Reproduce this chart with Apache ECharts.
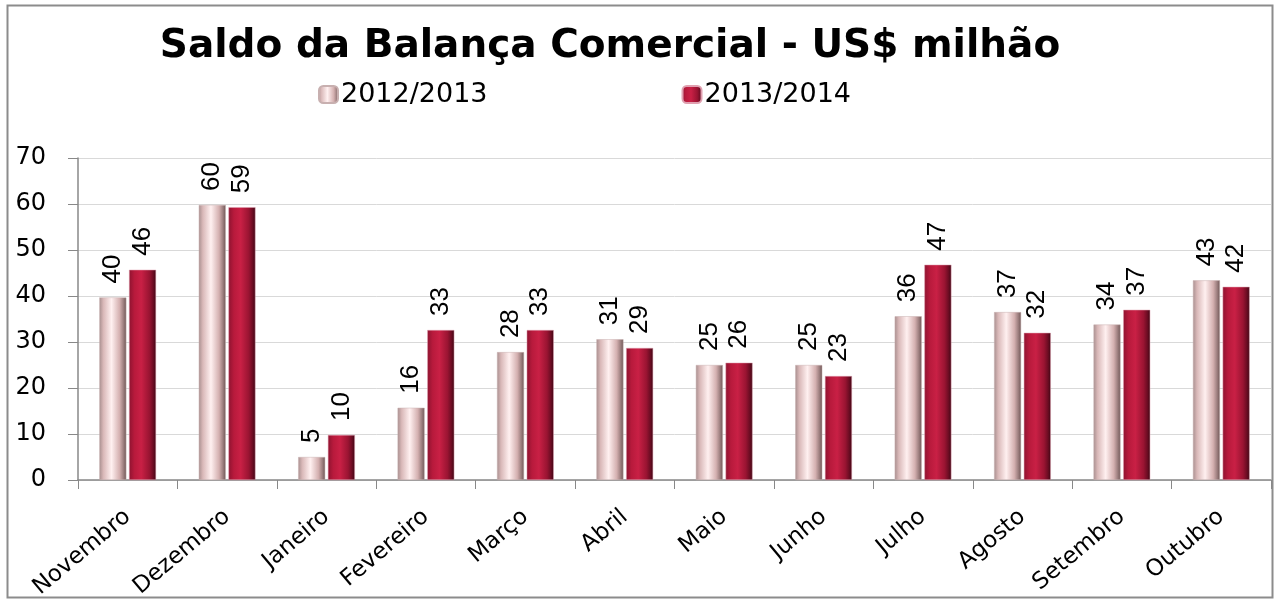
<!DOCTYPE html>
<html>
<head>
<meta charset="utf-8">
<script src="https://cdn.jsdelivr.net/npm/echarts@6/dist/echarts.min.js"></script>
<style>
  html, body { margin: 0; padding: 0; background: #fff; }
  #chart { width: 1277px; height: 603px; }
</style>
</head>
<body>
<div id="chart"></div>
<script>
// categorias e valores (US$ milhão)
const meses = ['Novembro', 'Dezembro', 'Janeiro', 'Fevereiro', 'Março', 'Abril',
  'Maio', 'Junho', 'Julho', 'Agosto', 'Setembro', 'Outubro']
const safra1213 = [39.7, 59.8, 5.0, 15.7, 27.8, 30.6, 25.0, 25.0, 35.6, 36.5, 33.8, 43.4]
const safra1314 = [45.7, 59.3, 9.8, 32.6, 32.6, 28.7, 25.5, 22.6, 46.8, 32.0, 37.0, 42.0]
const yTicks = [0, 10, 20, 30, 40, 50, 60, 70]

const chart = echarts.init(document.getElementById('chart'))

// gradientes para imitar o efeito 3D das barras
const claro = new echarts.graphic.LinearGradient(0, 0, 1, 0, [
  { offset: 0, color: '#a88f8f' },
  { offset: 0.15, color: '#d9b8b8' },
  { offset: 0.45, color: '#fff0f0' },
  { offset: 0.75, color: '#d4b0b0' },
  { offset: 0.9, color: '#9a7c7c' },
  { offset: 1, color: '#6e5656' },
])
const escuro = new echarts.graphic.LinearGradient(0, 0, 1, 0, [
  { offset: 0, color: '#8e1330' },
  { offset: 0.2, color: '#b81a3c' },
  { offset: 0.45, color: '#c92045' },
  { offset: 0.75, color: '#9a1432' },
  { offset: 0.9, color: '#6a0c22' },
  { offset: 1, color: '#3e0614' },
])

const rotulo = {
  show: true,
  position: 'top',
  rotate: 90,
  align: 'left',
  verticalAlign: 'middle',
  distance: 14,
  fontFamily: 'Liberation Sans',
  fontSize: 26,
  color: '#000',
  formatter: p => Math.round(p.value),
}

chart.setOption({
  animation: false,
  title: {
    text: 'Saldo da Balança Comercial - US$ milhão',
    left: 605,
    textAlign: 'center',
    top: 22,
    textStyle: { fontFamily: 'DejaVu Sans', fontWeight: 'bold', fontSize: 39, color: '#000' },
  },
  legend: {
    left: 313,
    top: 76,
    itemWidth: 19,
    itemHeight: 17,
    itemGap: 194,
    textStyle: { fontFamily: 'DejaVu Sans', fontSize: 27, color: '#000', padding: [0, 0, 0, -2] },
    data: [
      { name: '2012/2013', itemStyle: { color: claro } },
      { name: '2013/2014', itemStyle: { color: escuro } },
    ],
  },
  graphic: [{
    type: 'rect',
    shape: { x: 7.5, y: 5.5, width: 1265, height: 592 },
    style: { fill: 'none', stroke: '#8c8c8c', lineWidth: 2 },
    silent: true,
  }],
  grid: { left: 78, right: 6, top: 158, bottom: 123 },
  xAxis: {
    type: 'category',
    data: meses,
    axisLine: { lineStyle: { color: '#888', width: 1.5 } },
    axisTick: { show: true, length: 9, lineStyle: { color: '#888' } },
    axisLabel: {
      rotate: 40,
      interval: 0,
      margin: 34,
      fontFamily: 'DejaVu Sans',
      fontSize: 23,
      color: '#000',
    },
  },
  yAxis: {
    type: 'value',
    min: yTicks[0],
    max: yTicks[yTicks.length - 1],
    interval: 10,
    axisLine: { show: true, lineStyle: { color: '#888', width: 1.5 } },
    axisTick: { show: true, length: 10, lineStyle: { color: '#888' } },
    axisLabel: { margin: 32, fontFamily: 'DejaVu Sans', fontSize: 24, color: '#000' },
    splitLine: { lineStyle: { color: '#d9d9d9' } },
  },
  series: [
    {
      name: '2012/2013',
      type: 'bar',
      data: safra1213,
      barWidth: 27,
      barGap: '10%',
      itemStyle: { color: claro, borderColor: '#c8b0b0', borderWidth: 0.5 },
      label: rotulo,
    },
    {
      name: '2013/2014',
      type: 'bar',
      data: safra1314,
      barWidth: 27,
      itemStyle: { color: escuro, borderColor: '#e0a0b0', borderWidth: 0.5 },
      label: rotulo,
    },
  ],
})
</script>
</body>
</html>
